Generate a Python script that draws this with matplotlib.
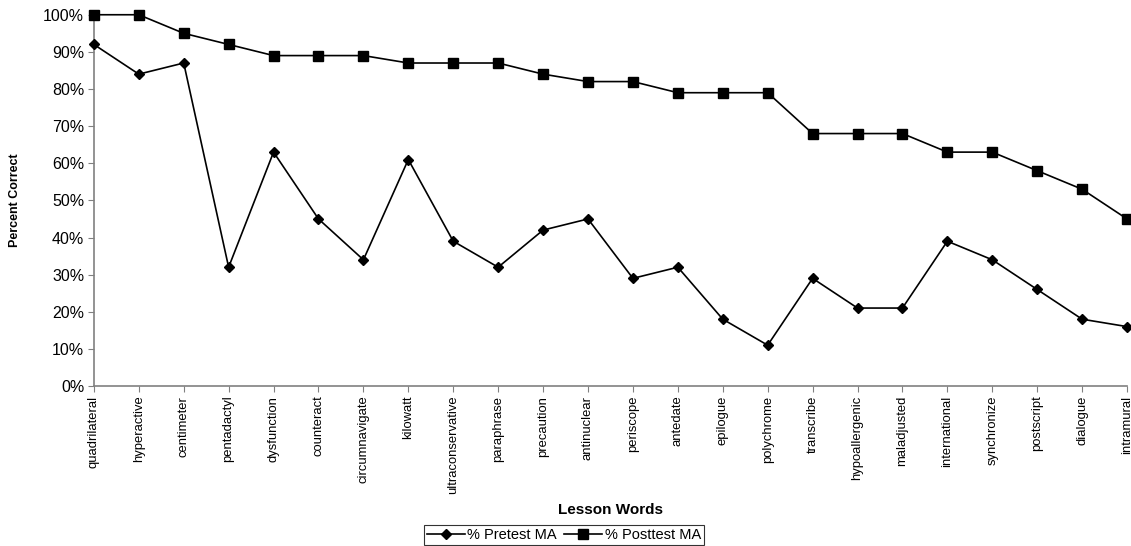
import numpy as np
import matplotlib.pyplot as plt
from matplotlib.ticker import PercentFormatter

words = ['quadrilateral', 'hyperactive', 'centimeter', 'pentadactyl', 'dysfunction',
         'counteract', 'circumnavigate', 'kilowatt', 'ultraconservative', 'paraphrase',
         'precaution', 'antinuclear', 'periscope', 'antedate', 'epilogue', 'polychrome',
         'transcribe', 'hypoallergenic', 'maladjusted', 'international', 'synchronize',
         'postscript', 'dialogue', 'intramural']
pretest = [92, 84, 87, 32, 63, 45, 34, 61, 39, 32, 42, 45, 29, 32, 18, 11,
           29, 21, 21, 39, 34, 26, 18, 16]
posttest = [100, 100, 95, 92, 89, 89, 89, 87, 87, 87, 84, 82, 82, 79, 79, 79,
            68, 68, 68, 63, 63, 58, 53, 45]

plt.rcParams['font.family'] = ['Liberation Sans', 'DejaVu Sans']

fig = plt.figure(figsize=(11.31, 5.46), dpi=100)
ax = fig.add_axes([0.083, 0.293, 0.9135, 0.68])

x = np.arange(len(words))
ax.plot(x, pretest, color='black', lw=1.2, marker='D', markersize=5, label='% Pretest MA', clip_on=False, zorder=3)
ax.plot(x, posttest, color='black', lw=1.2, marker='s', markersize=6.5, label='% Posttest MA', clip_on=False, zorder=3)

ax.set_xlim(0, len(words) - 1)
ax.set_ylim(0, 100)
ax.set_yticks(np.arange(0, 101, 10))
ax.yaxis.set_major_formatter(PercentFormatter(decimals=0))
ax.set_xticks(x)
ax.set_xticklabels(words, rotation=90, fontsize=9.4)
ax.tick_params(axis='y', labelsize=11.5, color='#808080', length=4, pad=3)
ax.tick_params(axis='x', color='#808080', length=4, pad=3)

for s in ['top', 'right']:
    ax.spines[s].set_visible(False)
for s in ['left', 'bottom']:
    ax.spines[s].set_color('#808080')
    ax.spines[s].set_linewidth(1.2)

ax.set_ylabel('Percent Correct', fontsize=9, fontweight='bold', va='center')
ax.yaxis.set_label_coords(-0.0765, 0.5)
ax.set_xlabel('Lesson Words', fontsize=11, fontweight='bold', va='center')
ax.xaxis.set_label_coords(0.5, -0.334)

leg = fig.legend(loc='lower center', bbox_to_anchor=(0.4987, 0.0), ncol=2, fontsize=10.5,
                 frameon=True, fancybox=False, edgecolor='black', handlelength=2.6,
                 borderpad=0.2, columnspacing=0.5, handletextpad=0.2, borderaxespad=0.05)
leg.get_frame().set_linewidth(0.8)

fig.savefig('out.png', dpi=100)
